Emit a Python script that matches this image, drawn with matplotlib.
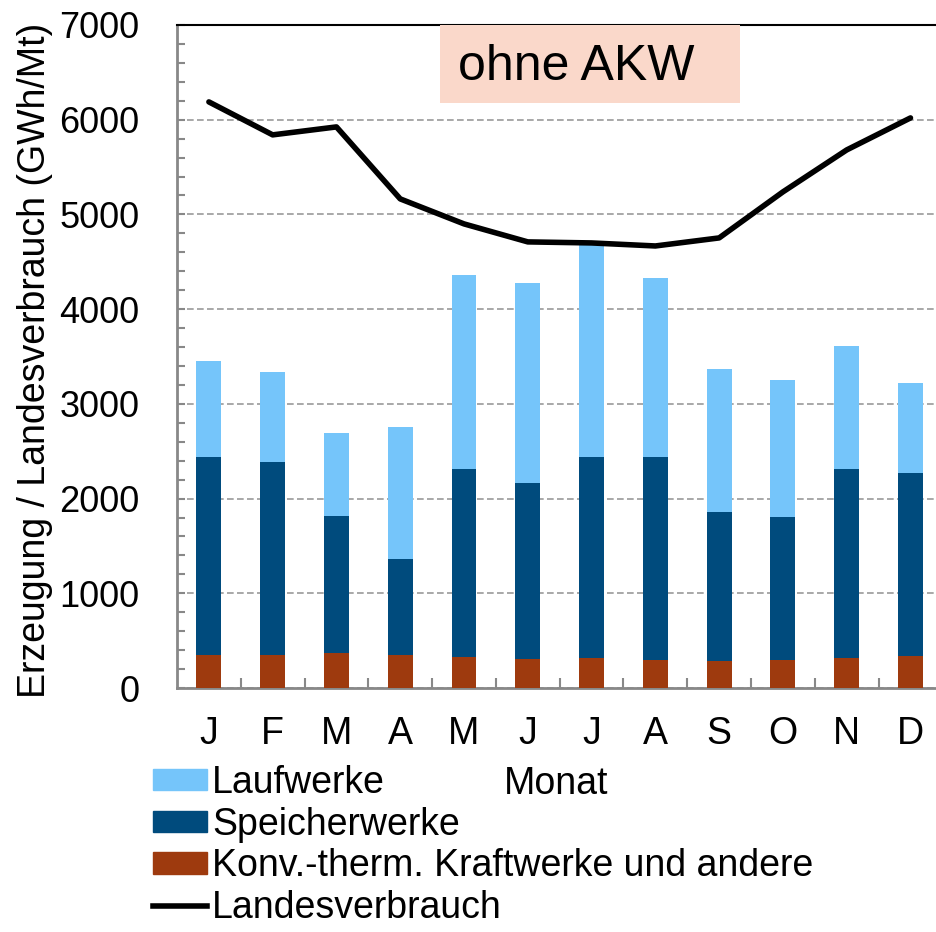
import matplotlib
matplotlib.use("Agg")
import matplotlib.pyplot as plt
from matplotlib.patches import Patch, Rectangle
from matplotlib.lines import Line2D
import numpy as np

plt.rcParams['font.family'] = ['Liberation Sans', 'DejaVu Sans']

months = ["J", "F", "M", "A", "M", "J", "J", "A", "S", "O", "N", "D"]
konv = [348, 348, 370, 348, 327, 306, 317, 296, 285, 296, 317, 338]
speicher_top = [2439, 2386, 1816, 1362, 2313, 2165, 2439, 2439, 1858, 1806, 2313, 2270]
total_top = [3453, 3337, 2693, 2756, 4361, 4277, 4710, 4329, 3368, 3252, 3611, 3221]
verbrauch = [6188, 5840, 5924, 5164, 4900, 4710, 4699, 4667, 4752, 5238, 5681, 6019]

speicher = [s - k for s, k in zip(speicher_top, konv)]
lauf = [t - s for t, s in zip(total_top, speicher_top)]

c_lauf = "#75C5FA"
c_speicher = "#004B7D"
c_konv = "#9E3A0E"

W, H = 936, 932
fig = plt.figure(figsize=(W / 100, H / 100), dpi=100)
ax = fig.add_axes([177 / W, 1 - 688 / H, (936 - 177) / W, (688 - 25) / H])

x = np.arange(len(months))
bw = 0.39
ax.bar(x, konv, bw, color=c_konv, zorder=3)
ax.bar(x, speicher, bw, bottom=konv, color=c_speicher, zorder=3)
ax.bar(x, lauf, bw, bottom=speicher_top, color=c_lauf, zorder=3)
ax.plot(x, verbrauch, color="black", lw=4, solid_capstyle="round", zorder=4)

ax.set_xlim(-0.5, 11.4)
ax.set_ylim(0, 7000)
ax.set_yticks(np.arange(0, 7001, 1000))
ax.set_yticks(np.arange(0, 7001, 200), minor=True)
ax.yaxis.grid(True, which="major", color="#999999", linestyle=(0, (4, 2)), lw=1.2, zorder=0)

ax.set_xticks(x)
ax.set_xticklabels(months)
ax.set_xticks(np.arange(0.5, 11.5, 1), minor=True)
ax.tick_params(axis="x", which="major", length=0, pad=20, labelsize=27)
ax.tick_params(axis="x", which="minor", direction="in", length=7, width=1.5, color="#888888")
ax.tick_params(axis="y", which="both", direction="in", length=6, width=1.5, color="#888888", pad=27, labelsize=26)

ax.spines["right"].set_visible(False)
ax.spines["top"].set_color("black")
ax.spines["top"].set_linewidth(1.5)
for s in ["left", "bottom"]:
    ax.spines[s].set_color("#888888")
    ax.spines[s].set_linewidth(2)

ax.set_xlabel("Monat", fontsize=27, labelpad=10)
fig.text(35 / W, 1 - 360 / H, "Erzeugung / Landesverbrauch (GWh/Mt)", rotation=90,
         ha="center", va="center", fontsize=27)

ax.add_patch(Rectangle((0.3465, 0.8824), 0.7418 - 0.3465, 1 - 0.8824, transform=ax.transAxes,
                       fc="#FAD8CA", ec="none", zorder=6))
ax.text(0.3702, 0.937, "ohne AKW", transform=ax.transAxes, fontsize=36, ha="left", va="center",
        zorder=7)

handles = [Patch(color=c_lauf), Patch(color=c_speicher), Patch(color=c_konv),
           Line2D([0], [0], color="black", lw=4)]
labels = ["Laufwerke", "Speicherwerke", "Konv.-therm. Kraftwerke und andere", "Landesverbrauch"]
fig.legend(handles, labels, loc="upper left", bbox_to_anchor=(153 / W, 1 - 765 / H),
           frameon=False, fontsize=27, handlelength=1.45, handleheight=0.5,
           handletextpad=0.12, labelspacing=0.15, borderpad=0, borderaxespad=0)

fig.savefig("out.png", dpi=100)
